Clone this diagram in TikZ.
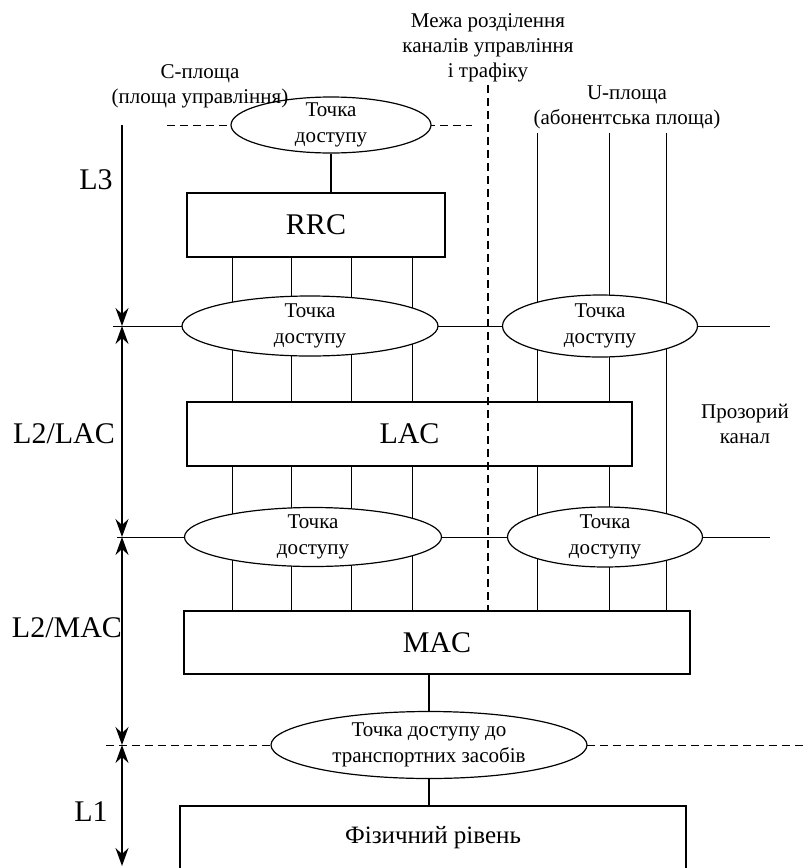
\documentclass[tikz,border=0pt]{standalone}
\usepackage{fontspec}
\setmainfont{Liberation Serif}
\usetikzlibrary{shapes.geometric, arrows.meta, positioning, backgrounds}

\begin{document}
\begin{tikzpicture}[
    x=1pt, y=-1pt,
    line width=1.2pt,
    >={Stealth[length=18pt, width=13pt, inset=6pt]},
    access/.style={ellipse, draw, fill=white, align=center, inner xsep=0pt, inner ysep=-3pt, font=\fontsize{21}{26}\selectfont},
    block/.style={rectangle, draw, font=\fontsize{30}{36}\selectfont},
    note/.style={align=center, font=\fontsize{21}{25}\selectfont},
    layer/.style={font=\fontsize{30}{36}\selectfont},
    bound/.style={dash pattern=on 8pt off 5pt}
]
\useasboundingbox (0,0) rectangle (803,868);

% Access points and protocol blocks
\node[access, minimum width=200pt, minimum height=56pt] (ap1) at (331,125) {Точка\\доступу};
\node[block, minimum width=258pt, minimum height=64pt] (rrc) at (316,225) {RRC};
\node[access, minimum width=256pt, minimum height=60pt] (ap2l) at (310,326) {Точка\\доступу};
\node[access, minimum width=195pt, minimum height=62pt] (ap2r) at (600,326) {Точка\\доступу};
\node[block, minimum width=445pt, minimum height=64pt] (lac) at (409.5,434) {LAC};
\node[access, minimum width=257pt, minimum height=59pt] (ap3l) at (313,537) {Точка\\доступу};
\node[access, minimum width=195pt, minimum height=60pt] (ap3r) at (605,537) {Точка\\доступу};
\node[block, minimum width=506pt, minimum height=63pt] (mac) at (437,642.5) {MAC};
\node[access, minimum width=316pt, minimum height=67pt] (ap4) at (429,745) {Точка доступу до\\транспортних засобів};
\node[block, minimum width=506pt, minimum height=64pt, font=\fontsize{25}{30}\selectfont] (phys) at (433,838) {Фізичний рівень};

% Captions
\node[note] (sepnote) at (488,48) {Межа розділення\\каналів управління\\і трафіку};
\node[note] (cplane) at (200,86) {C-площа\\(площа управління)};
\node[note] (uplane) at (627,107) {U-площа\\(абонентська площа)};
\node[note] (transp) at (745,424) {Прозорий\\канал};
\node[layer] (l3) at (96,180) {L3};
\node[layer] (l2lac) at (64,434) {L2/LAC};
\node[layer] (l2mac) at (67,628) {L2/MAC};
\node[layer] (l1) at (91,812) {L1};

% Free ends
\coordinate (tdl) at (167,125);
\coordinate (tdr) at (472,125);
\coordinate (septop) at (488,85);
\coordinate (sepbot) at (488,610);
\coordinate (axtop) at (122,125);
\coordinate (axbot) at (122,866);
\coordinate (h2l) at (113,326);
\coordinate (h2r) at (770,326);
\coordinate (h3l) at (117,537);
\coordinate (h3r) at (770,537);
\coordinate (h4l) at (106,745);
\coordinate (h4r) at (803,745);
\coordinate (c1) at (232,0);
\coordinate (c2) at (291,0);
\coordinate (c3) at (351,0);
\coordinate (c4) at (412,0);
\coordinate (u1) at (537,133);
\coordinate (u2) at (609,133);
\coordinate (u3) at (666,133);

\begin{scope}[on background layer]
% Channels
\foreach \c in {c1,c2,c3,c4} {
    \draw (\c |- rrc.south) -- (\c |- lac.north);
    \draw (\c |- lac.south) -- (\c |- mac.north);
}
\foreach \u in {u1,u2} {
    \draw (\u) -- (\u |- lac.north);
    \draw (\u |- lac.south) -- (\u |- mac.north);
}
\draw (u3) -- (u3 |- mac.north);

% Layer borders
\draw[bound] (tdl) -- (tdr);
\draw (h2l) -- (h2r);
\draw (h3l) -- (h3r);
\draw[bound] (h4l) -- (h4r);
\end{scope}

\draw (ap1.south) -- (ap1.south |- rrc.north);
\draw (ap4.north |- mac.south) -- (ap4.north);
\draw (ap4.south) -- (ap4.south |- phys.north);
\draw[bound] (septop) -- (sepbot);

% Layer arrows
\draw[->] (axtop) -- (axtop |- h2l);
\draw[<->] (axtop |- h2l) -- (axtop |- h3l);
\draw[<->] (axtop |- h3l) -- (axtop |- h4l);
\draw[<->] (axtop |- h4l) -- (axbot);

\end{tikzpicture}
\end{document}
